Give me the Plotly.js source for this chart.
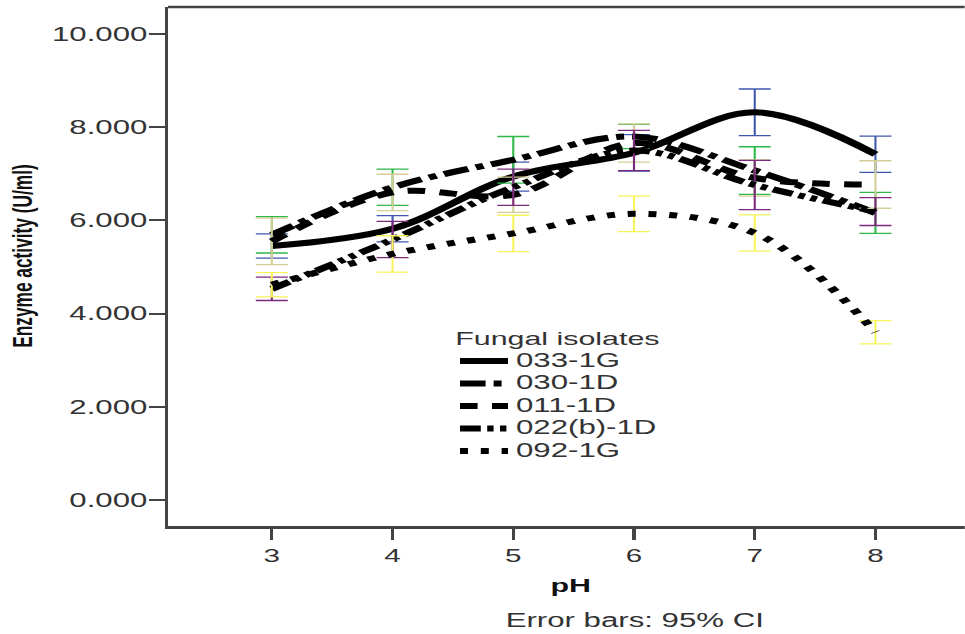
<!DOCTYPE html>
<html>
<head>
<meta charset="utf-8">
<script src="https://cdn.plot.ly/plotly-3.0.1.min.js"></script>
<style>
html,body{margin:0;padding:0;background:#fff;overflow:hidden;}
#chart{width:603px;height:634px;transform:scaleX(1.6);transform-origin:0 0;}
</style>
</head>
<body>
<div id="chart"></div>
<script>
const pH = [3, 4, 5, 6, 7, 8];
const isolates = ["033-1G", "030-1D", "011-1D", "022(b)-1D", "092-1G"];
const mean_033_1G = [5.45, 5.82, 6.94, 7.45, 8.32, 7.42];
const ci_033_1G   = [0.26, 0.28, 0.31, 0.39, 0.50, 0.39];
const mean_030_1D = [5.69, 6.71, 7.30, 7.80, 7.07, 6.16];
const ci_030_1D   = [0.39, 0.39, 0.50, 0.26, 0.51, 0.44];
const mean_011_1D = [5.55, 6.60, 6.55, 7.66, 6.91, 6.77];
const ci_011_1D   = [0.50, 0.39, 0.38, 0.41, 0.39, 0.51];
const mean_022b_1D = [4.53, 5.59, 6.71, 7.50, 6.76, 6.19];
const ci_022b_1D   = [0.25, 0.39, 0.39, 0.43, 0.53, 0.30];
const mean_092_1G = [4.62, 5.28, 5.72, 6.14, 5.73, 3.60];
const ci_092_1G   = [0.26, 0.39, 0.39, 0.38, 0.39, 0.25];
const yTicks = [0, 2, 4, 6, 8, 10];

const means = [mean_033_1G, mean_030_1D, mean_011_1D, mean_022b_1D, mean_092_1G];
const cis = [ci_033_1G, ci_030_1D, ci_011_1D, ci_022b_1D, ci_092_1G];
const barColors = ["#3E58AC", "#2EB848", "#D3CE97", "#7C287D", "#F7F35A"];
const dashes = ["solid", "16px,5px,5px,5px", "11px,9px", "13px,4px,4px,4px,4px,4px", "5px,8px"];

const traces = isolates.map((name, i) => ({
  type: "scatter",
  mode: "lines",
  name: '<span style="font-size:19.5px">' + name + '</span>',
  x: pH,
  y: means[i],
  line: {color: "#000", width: 6, shape: "spline", smoothing: 1, dash: dashes[i]},
  error_y: {type: "data", array: cis[i], visible: true, color: barColors[i], thickness: 1.3, width: 10}
}));

const fontMain = "Liberation Sans, Arial, sans-serif";
const plotL = 105, plotW = 498, plotB = 526, plotH = 519;
const px = xs => (xs / 1.6 - plotL) / plotW;
const py = ys => (plotB - ys) / plotH;

const layout = {
  width: 603, height: 634,
  margin: {l: plotL, r: 0, t: 7, b: 108},
  paper_bgcolor: "#fff", plot_bgcolor: "#fff",
  showlegend: true,
  legend: {
    x: px(452), y: py(320), xanchor: "left", yanchor: "top",
    bgcolor: "rgba(0,0,0,0)",
    font: {family: fontMain, size: 15, color: "#333"},
    title: {text: "Fungal isolates", font: {family: fontMain, size: 19, color: "#333"}},
    itemwidth: 30,
    tracegroupgap: 0
  },
  xaxis: {
    range: [2.14, 8.74], tickvals: pH, ticktext: pH.map(String),
    showgrid: false, zeroline: false,
    showline: true, linecolor: "#444", linewidth: 2.5,
    ticks: "outside", ticklen: 11, tickwidth: 2, tickcolor: "#444",
    tickfont: {family: fontMain, size: 18.5, color: "#333"},
    title: {text: ""}
  },
  yaxis: {
    range: [-0.56, 10.58], tickvals: yTicks, tickformat: ".3f",
    showgrid: false, zeroline: false,
    showline: true, linecolor: "#444", linewidth: 2,
    ticks: "outside", ticklen: 10, tickwidth: 2, tickcolor: "#444",
    ticklabelstandoff: -3,
    tickfont: {family: fontMain, size: 19.5, color: "#333"},
    title: {text: ""}
  },
  shapes: [
    {type: "line", xref: "paper", yref: "paper", x0: 0, x1: 1, y0: 1, y1: 1, line: {color: "#444", width: 2.5}}
  ],
  annotations: [
    {text: "<b>pH</b>", xref: "paper", yref: "paper", x: px(570), y: py(585),
     showarrow: false, xanchor: "center", yanchor: "middle", font: {family: fontMain, size: 19, color: "#111"}},
    {text: "Error bars: 95% CI", xref: "paper", yref: "paper", x: px(635), y: py(620),
     showarrow: false, xanchor: "center", yanchor: "middle", font: {family: fontMain, size: 19.5, color: "#333"}},
    {text: "<b>Enzyme activity (U/ml)</b>", xref: "paper", yref: "paper", x: px(22), y: py(256),
     showarrow: false, xanchor: "center", yanchor: "middle", textangle: -90,
     font: {family: fontMain, size: 17.3, color: "#111"}}
  ]
};

Plotly.newPlot("chart", traces, layout, {displayModeBar: false, staticPlot: true});
</script>
</body>
</html>
